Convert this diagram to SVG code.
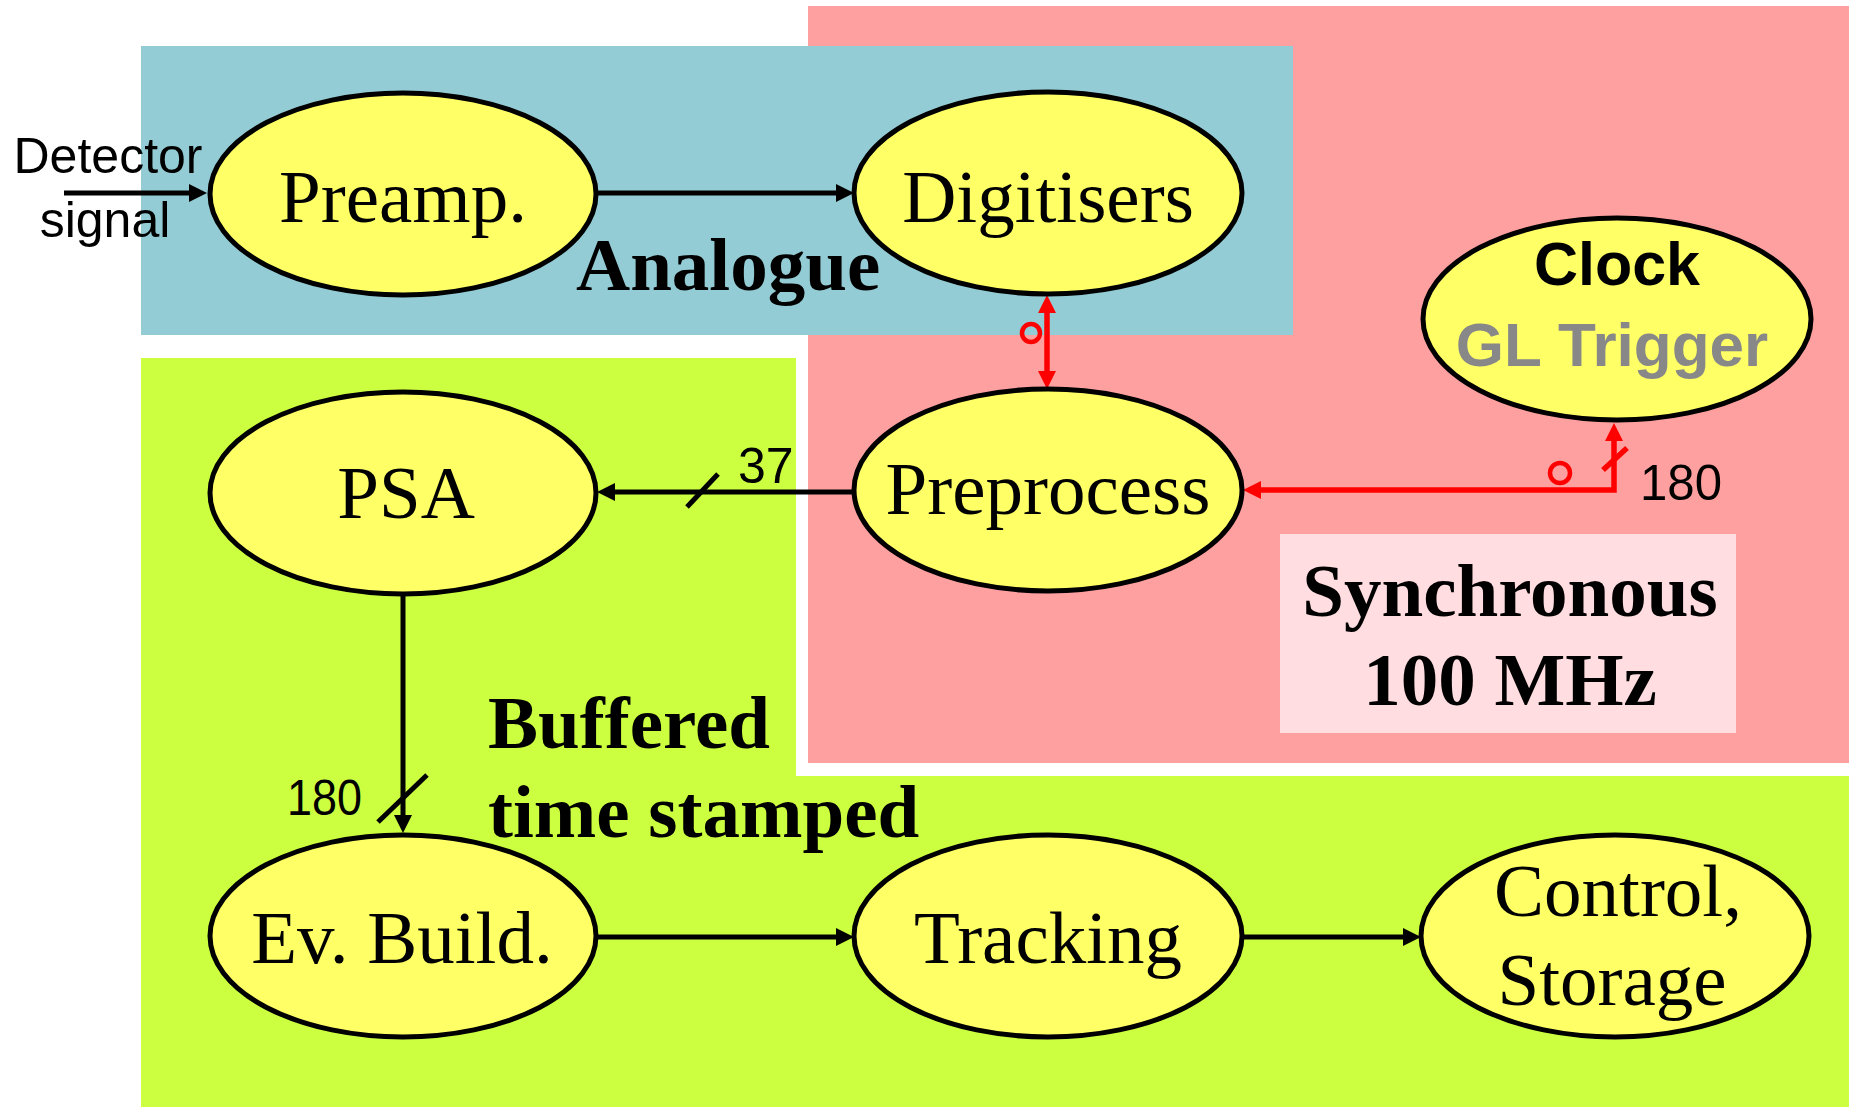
<svg xmlns="http://www.w3.org/2000/svg" width="1855" height="1107" viewBox="0 0 1855 1107">
<style>
.node{fill:#FFFF66;stroke:#000;stroke-width:5}
.lbl{font-family:"Liberation Serif","Times New Roman",serif;font-size:75px;fill:#000;text-anchor:middle}
.bold{font-family:"Liberation Serif","Times New Roman",serif;font-size:75px;font-weight:bold;fill:#000}
.sans{font-family:"Liberation Sans",Arial,sans-serif;font-size:50px;fill:#000}
.blk{stroke:#000;stroke-width:5;fill:none}
.red{stroke:#FF0000;stroke-width:5.5;fill:none}
</style>
<defs>
<marker id="ab" markerWidth="20" markerHeight="20" refX="2" refY="9" orient="auto" markerUnits="userSpaceOnUse"><path d="M0,0 L18,9 L0,18 z" fill="#000"/></marker>
<marker id="ar" markerWidth="20" markerHeight="20" refX="2" refY="9" orient="auto-start-reverse" markerUnits="userSpaceOnUse"><path d="M0,0 L18,9 L0,18 z" fill="#FF0000"/></marker>
</defs>
<rect width="1855" height="1107" fill="#fff"/>
<g id="regions">
<rect x="808" y="6" width="1041" height="757" fill="#FFA0A0"/>
<rect x="141" y="46" width="1152" height="289" fill="#93CCD4"/>
<rect x="141" y="358" width="655" height="749" fill="#CCFF40"/>
<rect x="141" y="776" width="1708" height="331" fill="#CCFF40"/>
<rect x="1280" y="534" width="456" height="199" fill="#FFDDE0"/>
</g>
<g id="region-labels">
<text class="bold" x="576" y="290">Analogue</text>
<text class="bold" x="488" y="748">Buffered</text>
<text class="bold" x="488" y="837">time stamped</text>
<text class="bold" x="1510" y="616" text-anchor="middle">Synchronous</text>
<text class="bold" x="1510" y="705" text-anchor="middle">100 MHz</text>
</g>
<g id="connectors">
<line class="blk" x1="64" y1="193" x2="191" y2="193" marker-end="url(#ab)"/>
<line class="blk" x1="597" y1="193" x2="838" y2="193" marker-end="url(#ab)"/>
<line class="blk" x1="854" y1="492" x2="613" y2="492" marker-end="url(#ab)"/>
<line class="blk" x1="687" y1="507" x2="718" y2="474"/>
<line class="blk" x1="403" y1="595" x2="403" y2="817" marker-end="url(#ab)"/>
<line class="blk" x1="378" y1="822" x2="427" y2="775"/>
<line class="blk" x1="597" y1="937" x2="838" y2="937" marker-end="url(#ab)"/>
<line class="blk" x1="1242" y1="937" x2="1405" y2="937" marker-end="url(#ab)"/>
<line class="red" x1="1047" y1="311" x2="1047" y2="373" marker-start="url(#ar)" marker-end="url(#ar)"/>
<circle cx="1031" cy="333" r="9" fill="none" stroke="#FF0000" stroke-width="4.5"/>
<path class="red" d="M1614,439 V490 H1259" marker-start="url(#ar)" marker-end="url(#ar)"/>
<line class="red" x1="1603" y1="470" x2="1627" y2="448"/>
<circle cx="1560" cy="473" r="10" fill="none" stroke="#FF0000" stroke-width="4.5"/>
<text class="sans" x="738" y="483">37</text>
<text class="sans" x="287" y="815" textLength="75" lengthAdjust="spacingAndGlyphs">180</text>
<text class="sans" x="1640" y="500" textLength="82" lengthAdjust="spacingAndGlyphs">180</text>
<text class="sans" x="108" y="173" text-anchor="middle" font-size="51">Detector</text>
<text class="sans" x="105" y="237" text-anchor="middle" font-size="51">signal</text>
</g>
<g id="preamp"><ellipse class="node" cx="403" cy="194" rx="193" ry="101"/><text class="lbl" x="403" y="222">Preamp.</text></g>
<g id="digitisers"><ellipse class="node" cx="1048" cy="193" rx="194" ry="101"/><text class="lbl" x="1048" y="222">Digitisers</text></g>
<g id="clock"><ellipse class="node" cx="1617" cy="319" rx="194" ry="101"/>
<text x="1617" y="285" text-anchor="middle" font-family="'Liberation Sans',Arial,sans-serif" font-weight="bold" font-size="61">Clock</text>
<text x="1612" y="366" text-anchor="middle" font-family="'Liberation Sans',Arial,sans-serif" font-weight="bold" font-size="62" fill="#888888">GL Trigger</text></g>
<g id="preprocess"><ellipse class="node" cx="1048" cy="490" rx="194" ry="101"/><text class="lbl" x="1048" y="514">Preprocess</text></g>
<g id="psa"><ellipse class="node" cx="403" cy="493" rx="193" ry="101"/><text class="lbl" x="406" y="518">PSA</text></g>
<g id="evbuild"><ellipse class="node" cx="403" cy="936" rx="193" ry="101"/><text class="lbl" x="402" y="963">Ev. Build.</text></g>
<g id="tracking"><ellipse class="node" cx="1048" cy="936" rx="194" ry="101"/><text class="lbl" x="1048" y="963">Tracking</text></g>
<g id="control"><ellipse class="node" cx="1615" cy="936" rx="194" ry="101"/><text class="lbl" x="1618" y="916">Control,</text><text class="lbl" x="1612" y="1005">Storage</text></g>
</svg>
